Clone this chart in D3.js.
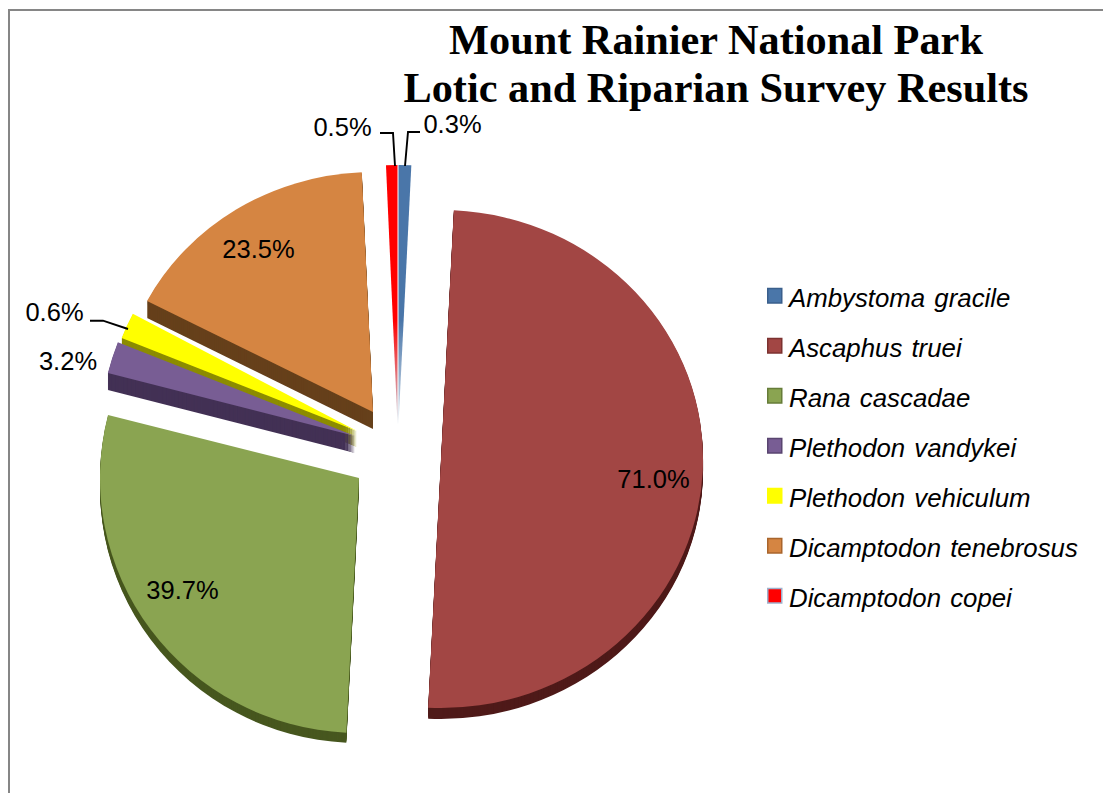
<!DOCTYPE html>
<html><head><meta charset="utf-8">
<style>html,body{margin:0;padding:0;background:#fff;overflow:hidden}svg{display:block}</style>
<script src="https://cdnjs.cloudflare.com/ajax/libs/d3/7.8.5/d3.min.js"></script>
</head><body>
<div id="chart"></div>
<script>
// Data
const species = ["Ambystoma gracile","Ascaphus truei","Rana cascadae","Plethodon vandykei","Plethodon vehiculum","Dicamptodon tenebrosus","Dicamptodon copei"];
const printedPercent = [0.3,71.0,39.7,3.2,0.6,23.5,0.5];
// Wedge sizes as drawn (degrees; they differ from the printed labels)
const drawnShare = [2.8,180,101.5,7.3,6,59.9,2.5];
const titleLines = ["Mount Rainier National Park","Lotic and Riparian Survey Results"];
// Styles and layout
const faceColors = ["#4a76a9","#a24644","#8aa451","#785d94","#ffff00","#d58542","#ff0000"];
const sideColors = ["#34547a","#4f1a19","#47571f","#433155","#8c8c00","#66401b","#a00000"];
const swatchStroke = ["#3a5f8c","#7c3230","#667c39","#594570","#ffff00","#a9652c","#9fb0cc"];
const apexX = [398.5,441,359,355,357,373,397.5];
const apexY = [424,459,478,436,431,412,424];
const radiusX = [262,262,259,255,253,255,262];
const radiusY = [259,249,255,255,253,240,259];
const sideDepth = [0,11,10,17,16,17,0];
const labelX = [452.5,653.5,182.5,68,54.5,258.5,342.5];
const labelY = [133,488,599,370,321,258,136];
const leaders = [[[405,166],[408,132],[420,132]],null,null,null,[[128,329],[103,320.7],[90,320.7]],null,[[395,166],[393,133],[380,133]]];

const W = 1103, H = 793;
const svg = d3.select("#chart").append("svg").attr("width",W).attr("height",H);
const defs = svg.append("defs");
[[0,"fadeBlue","#4a76a9","#d3deea"],[6,"fadeRed","#ff0000","#c9cfdc"]].forEach(([i,id,c0,c1])=>{
  const g = defs.append("linearGradient").attr("id",id).attr("gradientUnits","objectBoundingBox").attr("x1",0).attr("y1",0).attr("x2",0).attr("y2",1);
  g.append("stop").attr("offset",0.6).attr("stop-color",c0);
  g.append("stop").attr("offset",0.98).attr("stop-color",c1);
});
const faceFill = i => i===0 ? "url(#fadeBlue)" : i===6 ? "url(#fadeRed)" : faceColors[i];

// Frame
svg.append("path").attr("d",`M9,${H} V10 H${W}`).attr("fill","none").attr("stroke","#868686").attr("stroke-width",2);

const pie = d3.pie().sort(null).value(d=>d)(drawnShare);
const arc = d3.arc().innerRadius(0).outerRadius(1);
const place = (d,i,off=0) => `translate(${apexX[i]},${apexY[i]+off}) scale(${radiusX[i]},${radiusY[i]})`;

// extruded sides and faces, yellow before purple so the purple face covers its side
const order = [5,4,3,2,1,0,6];
const sides = svg.append("g");
order.forEach(i=>{
  sides.append("g").selectAll("path").data(d3.range(1,sideDepth[i]+1).reverse()).join("path")
    .attr("d",arc(pie[i])).attr("fill",sideColors[i])
    .attr("transform",k=>place(pie[i],i,k));
});
const faces = svg.append("g");
order.forEach(i=>{
  faces.append("path").datum(pie[i]).attr("d",arc).attr("fill",faceFill(i))
    .attr("transform",place(pie[i],i));
});

// Leader lines
svg.append("g").selectAll("path").data(leaders.filter(Boolean)).join("path")
  .attr("d",d3.line()).attr("fill","none").attr("stroke","#000").attr("stroke-width",1.9);

// Percent labels
svg.append("g").selectAll("text").data(printedPercent).join("text")
  .attr("x",(d,i)=>labelX[i]).attr("y",(d,i)=>labelY[i]).attr("text-anchor","middle")
  .attr("font-family","'Liberation Sans',Arial,sans-serif").attr("font-size",25.5).attr("fill","#000")
  .text(d=>d.toFixed(1)+"%");

// Title
svg.append("g").selectAll("text").data(titleLines).join("text")
  .attr("x",716).attr("y",(d,i)=>54+i*47.5).attr("text-anchor","middle")
  .attr("font-family","'Liberation Serif','Times New Roman',serif").attr("font-weight","bold").attr("font-size",42.3).attr("fill","#000")
  .text(d=>d);

// Legend
const legendY = d3.scalePoint().domain(species).range([296,596]);
const lg = svg.append("g").selectAll("g").data(species).join("g").attr("transform",d=>`translate(767,${legendY(d)})`);
lg.append("rect").attr("x",0.75).attr("y",-7.5).attr("width",14).attr("height",14.5)
  .attr("fill",(d,i)=>faceColors[i]).attr("stroke",(d,i)=>swatchStroke[i]).attr("stroke-width",1.5);
lg.append("text").attr("x",22).attr("y",11).attr("font-family","'Liberation Sans',Arial,sans-serif").attr("font-style","italic")
  .attr("font-size",25.8).attr("word-spacing",2).attr("fill","#000").text(d=>d);
</script>
</body></html>
